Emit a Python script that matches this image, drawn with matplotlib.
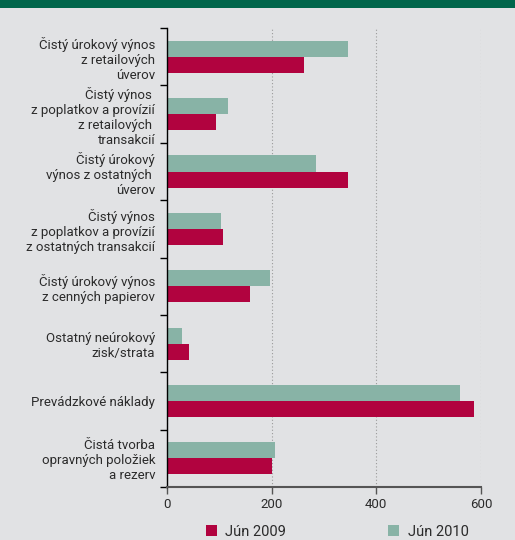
import numpy as np
import matplotlib.pyplot as plt
from matplotlib.patches import Rectangle

plt.rcParams['font.family'] = ['Roboto', 'DejaVu Sans']

categories = [
    "Čistý úrokový výnos\nz retailových\núverov",
    "Čistý výnos \nz poplatkov a provízií\nz retailových \ntransakcií",
    "Čistý úrokový\nvýnos z ostatných \núverov",
    "Čistý výnos\nz poplatkov a provízií\nz ostatných transakcií",
    "Čistý úrokový výnos\nz cenných papierov",
    "Ostatný neúrokový\nzisk/strata",
    "Prevádzkové náklady",
    "Čistá tvorba\nopravných položiek\na rezerv",
]
jun_2009 = [262, 94, 346, 107, 159, 42, 587, 200]
jun_2010 = [346, 117, 285, 103, 197, 29, 560, 206]
x_ticks = [0, 200, 400, 600]
series_names = ["Jún 2009", "Jún 2010"]

BG = "#e1e2e4"
RED = "#b1033f"
GREEN = "#88b3a6"
TEXT = "#2b2b2b"

fig = plt.figure(figsize=(5.15, 5.4), dpi=100, facecolor=BG)
fig.patches.append(Rectangle((0, 1 - 8 / 540), 1, 8 / 540, transform=fig.transFigure,
                             facecolor="#00664b", edgecolor="none"))

ax = fig.add_axes([0.324, 0.098, 0.61, 0.85])
ax.set_facecolor(BG)

y = np.arange(len(categories))
h = 0.28
ax.barh(y - h / 2, jun_2010, height=h, color=GREEN, label=series_names[1])
ax.barh(y + h / 2, jun_2009, height=h, color=RED, label=series_names[0])

ax.set_ylim(len(categories) - 0.5, -0.5)
ax.set_xlim(0, 600)

# labels at the group centres, ticks on the group boundaries
ax.set_yticks(y)
ax.set_yticklabels(categories, ha="right", color=TEXT, fontsize=9.5, linespacing=1.2)
ax.set_yticks(np.arange(len(categories) + 1) - 0.5, minor=True)
ax.tick_params(axis="y", which="major", length=0, pad=8.5)
ax.tick_params(axis="y", which="minor", length=5, width=1, direction="out", color="black")

ax.set_xticks(x_ticks)
ax.tick_params(axis="x", length=5, width=1, direction="out", color="#555555",
               labelsize=9.5, labelcolor=TEXT, pad=3)

for spine in ("top", "right"):
    ax.spines[spine].set_visible(False)
ax.spines["left"].set_color("black")
ax.spines["left"].set_linewidth(1)
ax.spines["bottom"].set_color("#555555")
ax.spines["bottom"].set_linewidth(1.5)

ax.xaxis.grid(True, color="#9a9a9a", linestyle=(0, (1, 2)), linewidth=0.8)
ax.set_axisbelow(True)

handles, labels = ax.get_legend_handles_labels()
fig.legend(handles[::-1], labels[::-1], loc="lower center", bbox_to_anchor=(0.655, -0.022),
           ncol=2, frameon=False, handlelength=0.75, handleheight=0.75, handletextpad=0.6,
           columnspacing=7, fontsize=10.5, labelcolor=TEXT)

fig.savefig("out.png", dpi=100, facecolor=BG)
